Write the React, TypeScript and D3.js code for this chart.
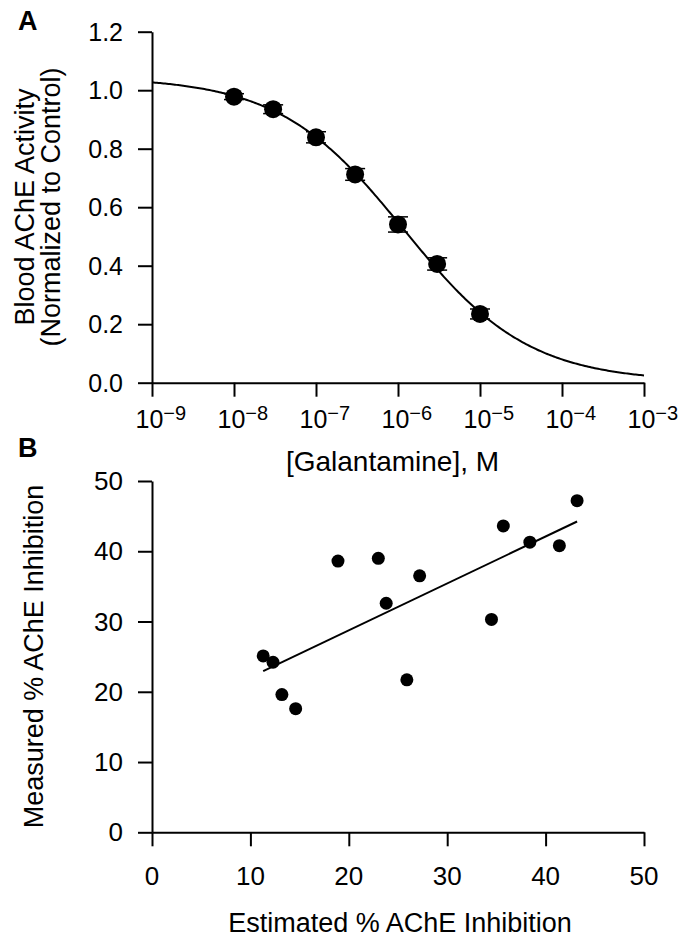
import React, { useEffect, useRef } from "react";
import * as d3 from "d3";

// Panel A: galantamine dose-response (mean +/- error)
const concentrations = [1e-8, 3e-8, 1e-7, 3e-7, 1e-6, 3e-6, 1e-5];
const activity = [0.978, 0.935, 0.839, 0.712, 0.541, 0.406, 0.235];
const activityErr = [0.01, 0.015, 0.019, 0.02, 0.026, 0.021, 0.017];
const xTicksA = [-9, -8, -7, -6, -5, -4, -3];
const yTicksA = [0, 0.2, 0.4, 0.6, 0.8, 1.0, 1.2];

// fitted 4-parameter logistic
const fitTop = 1.045;
const fitBottom = 0.003;
const fitLogIC50 = -5.93;
const fitHill = 0.57;

// Panel B: estimated vs measured inhibition
const estimated = [11.3, 12.3, 13.2, 14.6, 18.9, 23.0, 23.8, 25.9, 27.2, 34.5, 35.7, 38.4, 41.4, 43.2];
const measured = [25.1, 24.2, 19.6, 17.6, 38.6, 39.0, 32.6, 21.7, 36.5, 30.3, 43.6, 41.3, 40.8, 47.2];
const ticksB = [0, 10, 20, 30, 40, 50];

const FONT = "'Liberation Sans', Arial, Helvetica, sans-serif";

export default function App() {
  const ref = useRef<SVGSVGElement>(null);

  useEffect(() => {
    const svg = d3.select(ref.current);
    svg.selectAll("*").remove();

    const left = 152;
    const right = 644;

    // ---------- Panel A ----------
    const xA = d3.scaleLog().domain([1e-9, 1e-3]).range([left, right]);
    const yA = d3.scaleLinear().domain([0, 1.2]).range([382.7, 31.7]);

    const gA = svg.append("g");

    gA.append("g")
      .attr("transform", `translate(${left},0)`)
      .call(d3.axisLeft(yA).tickValues(yTicksA).tickSize(14).tickSizeOuter(0).tickFormat(() => ""))
      .call((g) => g.selectAll("path,line").attr("stroke", "#000").attr("stroke-width", 2));

    gA.append("g")
      .attr("transform", `translate(0,${yA(0)})`)
      .call(
        d3
          .axisBottom(xA)
          .tickValues(xTicksA.map((e) => Math.pow(10, e)))
          .tickSize(14)
          .tickSizeOuter(0)
          .tickFormat(() => "")
      )
      .call((g) => g.selectAll("path,line").attr("stroke", "#000").attr("stroke-width", 2));

    yTicksA.forEach((v) => {
      gA.append("text")
        .attr("x", left - 29)
        .attr("y", yA(v) + 9)
        .attr("text-anchor", "end")
        .style("font-family", FONT)
        .style("font-size", "25px")
        .text(v.toFixed(1));
    });

    xTicksA.forEach((e) => {
      const t = gA
        .append("text")
        .attr("x", xA(Math.pow(10, e)) - 16.5)
        .attr("y", 428.3)
        .style("font-family", FONT)
        .style("font-size", "25px");
      t.append("tspan").text("10");
      t.append("tspan").attr("dy", -8.3).style("font-size", "20px").text("\u2212" + Math.abs(e));
    });

    // fitted curve
    const curvePts = d3.range(0, 301).map((i) => {
      const logx = -9 + (6 * i) / 300;
      const y = fitBottom + (fitTop - fitBottom) / (1 + Math.pow(10, (logx - fitLogIC50) * fitHill));
      return [xA(Math.pow(10, logx)), yA(y)] as [number, number];
    });
    gA.append("path")
      .attr("d", d3.line()(curvePts))
      .attr("fill", "none")
      .attr("stroke", "#000")
      .attr("stroke-width", 2);

    // error bars
    concentrations.forEach((c, i) => {
      const cx = xA(c);
      const lo = yA(activity[i] - activityErr[i]);
      const hi = yA(activity[i] + activityErr[i]);
      gA.append("line").attr("x1", cx).attr("x2", cx).attr("y1", lo).attr("y2", hi).attr("stroke", "#000").attr("stroke-width", 1.5);
      [lo, hi].forEach((yy) =>
        gA.append("line").attr("x1", cx - 10).attr("x2", cx + 10).attr("y1", yy).attr("y2", yy).attr("stroke", "#000").attr("stroke-width", 1.5)
      );
    });

    gA.selectAll("circle")
      .data(concentrations)
      .join("circle")
      .attr("cx", (d) => xA(d))
      .attr("cy", (d, i) => yA(activity[i]))
      .attr("r", 9)
      .attr("fill", "#000");

    gA.append("text")
      .attr("x", 392.5)
      .attr("y", 471)
      .attr("text-anchor", "middle")
      .style("font-family", FONT)
      .style("font-size", "28px")
      .text("[Galantamine], M");

    const yLabA = gA.append("text")
      .attr("transform", `translate(0,207) rotate(-90)`)
      .attr("text-anchor", "middle")
      .style("font-family", FONT)
      .style("font-size", "27px");
    yLabA.append("tspan").attr("x", 0).attr("y", 34).text("Blood AChE Activity");
    yLabA.append("tspan").attr("x", 0).attr("y", 60).text("(Normalized to Control)");

    gA.append("text")
      .attr("x", 18)
      .attr("y", 30)
      .style("font-family", FONT)
      .style("font-size", "27px")
      .style("font-weight", "bold")
      .text("A");

    // ---------- Panel B ----------
    const xB = d3.scaleLinear().domain([0, 50]).range([left, right]);
    const yB = d3.scaleLinear().domain([0, 50]).range([832.3, 481]);

    const gB = svg.append("g");

    gB.append("g")
      .attr("transform", `translate(${left},0)`)
      .call(d3.axisLeft(yB).tickValues(ticksB).tickSize(14).tickSizeOuter(0).tickFormat(() => ""))
      .call((g) => g.selectAll("path,line").attr("stroke", "#000").attr("stroke-width", 2));

    gB.append("g")
      .attr("transform", `translate(0,${yB(0)})`)
      .call(d3.axisBottom(xB).tickValues(ticksB).tickSize(14).tickSizeOuter(0).tickFormat(() => ""))
      .call((g) => g.selectAll("path,line").attr("stroke", "#000").attr("stroke-width", 2));

    ticksB.forEach((v) => {
      gB.append("text")
        .attr("x", left - 29)
        .attr("y", yB(v) + 9)
        .attr("text-anchor", "end")
        .style("font-family", FONT)
        .style("font-size", "26px")
        .text(String(v));
      gB.append("text")
        .attr("x", xB(v))
        .attr("y", 885)
        .attr("text-anchor", "middle")
        .style("font-family", FONT)
        .style("font-size", "26px")
        .text(String(v));
    });

    // least-squares line
    const mx = d3.mean(estimated) as number;
    const my = d3.mean(measured) as number;
    const sxy = d3.sum(estimated, (x, i) => (x - mx) * (measured[i] - my));
    const sxx = d3.sum(estimated, (x) => (x - mx) * (x - mx));
    const slope = sxy / sxx;
    const intercept = my - slope * mx;
    const [x0, x1] = d3.extent(estimated) as [number, number];
    gB.append("line")
      .attr("x1", xB(x0))
      .attr("y1", yB(intercept + slope * x0))
      .attr("x2", xB(x1))
      .attr("y2", yB(intercept + slope * x1))
      .attr("stroke", "#000")
      .attr("stroke-width", 2);

    gB.selectAll("circle")
      .data(estimated)
      .join("circle")
      .attr("cx", (d) => xB(d))
      .attr("cy", (d, i) => yB(measured[i]))
      .attr("r", 6.5)
      .attr("fill", "#000");

    gB.append("text")
      .attr("x", 400)
      .attr("y", 932)
      .attr("text-anchor", "middle")
      .style("font-family", FONT)
      .style("font-size", "27px")
      .text("Estimated % AChE Inhibition");

    gB.append("text")
      .attr("transform", `translate(43,656.5) rotate(-90)`)
      .attr("text-anchor", "middle")
      .style("font-family", FONT)
      .style("font-size", "27px")
      .text("Measured % AChE Inhibition");

    gB.append("text")
      .attr("x", 18)
      .attr("y", 457)
      .style("font-family", FONT)
      .style("font-size", "27px")
      .style("font-weight", "bold")
      .text("B");
  }, []);

  return (
    <svg
      ref={ref}
      width={683}
      height={940}
      style={{ position: "absolute", left: 0, top: 0, background: "#fff" }}
    />
  );
}
